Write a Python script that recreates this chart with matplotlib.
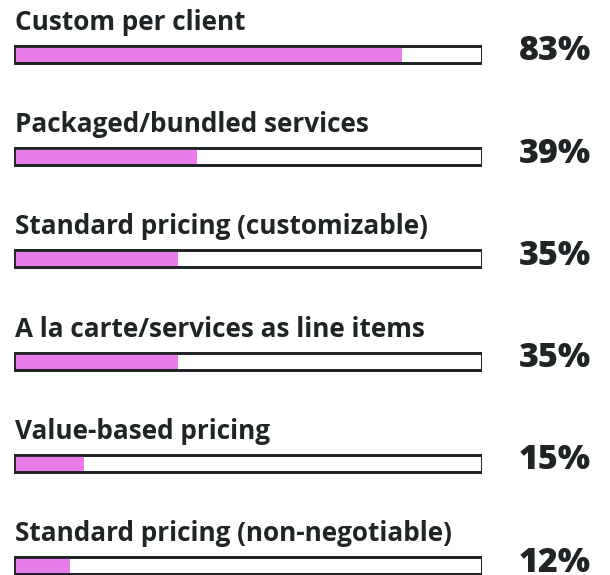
import matplotlib
matplotlib.use("Agg")
import matplotlib.pyplot as plt

# ---- data ---------------------------------------------------------------
categories = ["Custom per client", "Packaged/bundled services",
              "Standard pricing (customizable)", "A la carte/services as line items",
              "Value-based pricing", "Standard pricing (non-negotiable)"]
values = [83, 39, 35, 35, 15, 12]

PINK = "#e87ce8"; INK = "#1f2526"
plt.rcParams["font.family"] = ["Open Sans", "DejaVu Sans"]

W, H = 610, 575
fig = plt.figure(figsize=(W / 100, H / 100), dpi=100)
# bar track spans x=14..482 px; rows start at y=54 px, 102 px apart
ax = fig.add_axes([14 / W, 0, 468 / W, 1])
step = 102.2
ax.set_xlim(0, 100)
ax.set_ylim((H - 54.5) / step, -54.5 / step)
ax.axis("off")

ys = list(range(len(categories)))
bh = 17 / step
ax.barh(ys, [100] * len(ys), height=bh, color="white", edgecolor=INK, linewidth=2.0, zorder=1)
ax.barh(ys, values, height=bh - 0.02, color=PINK, edgecolor="none", zorder=2)
ax.barh(ys, [100] * len(ys), height=bh, color="none", edgecolor=INK, linewidth=2.0, zorder=3)

for y, cat, v in zip(ys, categories, values):
    ax.text(0.3, y - 24.5 / step, cat, ha="left", va="baseline", fontsize=18.8,
            fontweight="bold", color=INK, clip_on=False)
    ax.text((591 - 14) / 468 * 100, y - 3 / step, f"{v}%", ha="right", va="center",
            fontsize=24.5, fontweight="heavy", color=INK, clip_on=False)

fig.savefig("out.png", dpi=100)
